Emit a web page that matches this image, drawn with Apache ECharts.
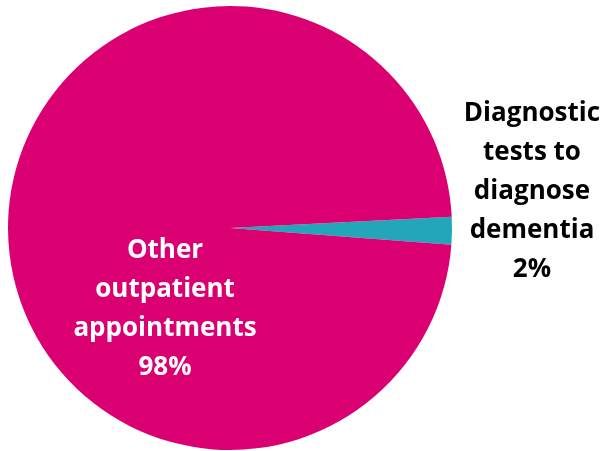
<!DOCTYPE html>
<html>
<head>
<meta charset="utf-8">
<script src="https://cdn.jsdelivr.net/npm/echarts@6/dist/echarts.min.js"></script>
<style>
  html, body { margin: 0; padding: 0; background: #fff; }
  #chart { width: 604px; height: 451px; }
</style>
</head>
<body>
<div id="chart"></div>
<script>
// categories and shares (percent)
const categories = ['Diagnostic\ntests to\ndiagnose\ndementia', 'Other\noutpatient\nappointments'];
const shares = [2, 98];
const colors = ['#23A6B9', '#DA0072'];
const labelColors = ['#000000', '#ffffff'];
const labelOffsets = [[188, -38], [49, 82]];

const myChart = echarts.init(document.getElementById('chart'));

const option = {
  animation: false,
  series: [
    {
      type: 'pie',
      center: [230, 228],
      radius: [0, 222],
      startAngle: 2.9,
      clockwise: true,
      silent: true,
      label: {
        show: true,
        position: 'inside',
        formatter: '{b}\n{c}%',
        fontFamily: 'Open Sans',
        fontWeight: 'bold',
        fontSize: 26,
        lineHeight: 39,
        align: 'center'
      },
      labelLine: { show: false },
      itemStyle: { borderWidth: 0 },
      data: categories.map((name, i) => ({
        name: name,
        value: shares[i],
        itemStyle: { color: colors[i] },
        label: { color: labelColors[i], offset: labelOffsets[i] }
      }))
    }
  ]
};

myChart.setOption(option);
</script>
</body>
</html>
